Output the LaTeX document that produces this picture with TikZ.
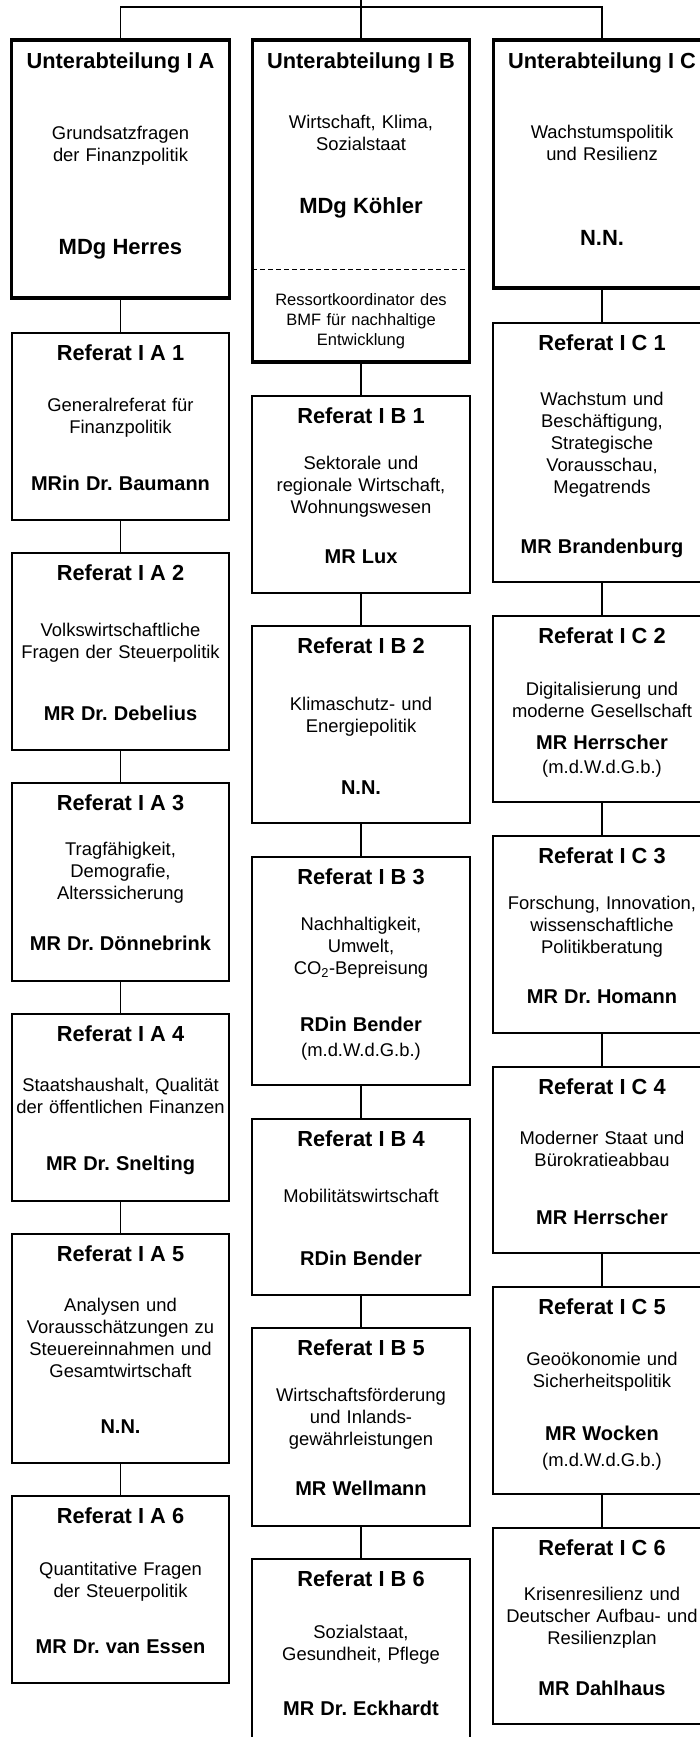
\documentclass[tikz,border=0pt]{standalone}
\usepackage{fontspec}
\setmainfont{Liberation Sans}
\frenchspacing
\newcommand{\headtxt}[1]{{\bfseries\fontsize{21.8}{22}\selectfont #1}}
\newcommand{\bosstxt}[1]{{\bfseries\fontsize{22}{22}\selectfont #1}}
\newcommand{\nametxt}[1]{{\bfseries\fontsize{20}{22}\selectfont #1}}

\begin{document}
\begin{tikzpicture}[x=1pt,y=-1pt]
\tikzset{refbox/.style=
            {draw, line width=1.6pt, anchor=north, outer sep=0pt,
             text width=214pt, inner xsep=1.75pt, inner ysep=0pt,
             align=center, text height=27.5pt,
             font=\fontsize{18.4}{22}\selectfont},
         headbox/.style=
            {refbox, line width=3.2pt, text height=28pt},
         notetxt/.style=
            {anchor=north, text width=214pt, inner xsep=1.75pt, inner ysep=0pt,
             align=center, font=\fontsize{16.5}{20}\selectfont},
         conn/.style={line width=1.6pt}}
\useasboundingbox (0,0) rectangle (700,1737);

% Unterabteilungen
\node[headbox,text depth=230pt] (ua) at (120.5,40)
    {\headtxt{Unterabteilung I A}\\[49.3pt] Grundsatzfragen\\der Finanzpolitik\\[71.7pt]
     \bosstxt{MDg Herres}};
\node[headbox,text depth=294pt] (ub) at (361,40)
    {\headtxt{Unterabteilung I B}\\[38pt] Wirtschaft, Klima,\\Sozialstaat\\[41.3pt]
     \bosstxt{MDg Köhler}};
\node[notetxt,text height=35.7pt] (ubnote) at (361,269.3)
    {Ressortkoordinator des\\BMF für nachhaltige\\Entwicklung};
\node[headbox,text depth=220pt] (uc) at (602,40)
    {\headtxt{Unterabteilung I C}\\[48.3pt] Wachstumspolitik\\und Resilienz\\[62.7pt]
     \bosstxt{N.N.}};
\draw[conn,dash pattern=on 5pt off 3pt] (ub.west |- ubnote.north) -- (ub.east |- ubnote.north);

% Referate I A
\node[refbox,text depth=159.5pt] (a1) at (120.5,333)
    {\headtxt{Referat I A 1}\\[29.2pt] Generalreferat für\\Finanzpolitik\\[34.3pt]
     \nametxt{MRin Dr. Baumann}};
\node[refbox,text depth=169.5pt] (a2) at (120.5,553)
    {\headtxt{Referat I A 2}\\[34.2pt] Volkswirtschaftliche\\Fragen der Steuerpolitik\\[39.3pt]
     \nametxt{MR Dr. Debelius}};
\node[refbox,text depth=170.5pt] (a3) at (120.5,783)
    {\headtxt{Referat I A 3}\\[22.5pt] Tragfähigkeit,\\Demografie,\\Alterssicherung\\[29.7pt]
     \nametxt{MR Dr. Dönnebrink}};
\node[refbox,text depth=159.5pt] (a4) at (120.5,1014)
    {\headtxt{Referat I A 4}\\[28.2pt] Staatshaushalt, Qualität\\der öffentlichen Finanzen\\[34.3pt]
     \nametxt{MR Dr. Snelting}};
\node[refbox,text depth=201.5pt] (a5) at (120.5,1234)
    {\headtxt{Referat I A 5}\\[28.2pt] Analysen und\\Vorausschätzungen zu\\Steuereinnahmen und\\Gesamtwirtschaft\\[33.6pt]
     \nametxt{N.N.}};
\node[refbox,text depth=159.5pt] (a6) at (120.5,1496)
    {\headtxt{Referat I A 6}\\[29.5pt] Quantitative Fragen\\der Steuerpolitik\\[34.3pt]
     \nametxt{MR Dr. van Essen}};

% Referate I B
\node[refbox,text depth=169.5pt] (b1) at (361,396)
    {\headtxt{Referat I B 1}\\[23.5pt] Sektorale und\\regionale Wirtschaft,\\Wohnungswesen\\[28.3pt]
     \nametxt{MR Lux}};
\node[refbox,text depth=169.5pt] (b2) at (361,626)
    {\headtxt{Referat I B 2}\\[34.5pt] Klimaschutz- und\\Energiepolitik\\[40pt]
     \nametxt{N.N.}};
\node[refbox,text depth=200.5pt] (b3) at (361,857)
    {\headtxt{Referat I B 3}\\[23.5pt] Nachhaltigkeit,\\Umwelt,\\CO\textsubscript{2}-Bepreisung\\[35.7pt]
     \nametxt{RDin Bender}\\[3pt] (m.d.W.d.G.b.)};
\node[refbox,text depth=148.5pt] (b4) at (361,1119)
    {\headtxt{Referat I B 4}\\[34.2pt] Mobilitätswirtschaft\\[40.3pt]
     \nametxt{RDin Bender}};
\node[refbox,text depth=170.5pt] (b5) at (361,1328)
    {\headtxt{Referat I B 5}\\[24.2pt] Wirtschaftsförderung\\und Inlands-\\gewährleistungen\\[27.3pt]
     \nametxt{MR Wellmann}};
\node[refbox,text depth=162.5pt] (b6) at (361,1559)
    {\headtxt{Referat I B 6}\\[29.8pt] Sozialstaat,\\Gesundheit, Pflege\\[32.7pt]
     \nametxt{MR Dr. Eckhardt}};

% Referate I C
\node[refbox,text depth=231.5pt] (c1) at (602,323)
    {\headtxt{Referat I C 1}\\[32.5pt] Wachstum und\\Beschäftigung,\\Strategische\\Vorausschau,\\Megatrends\\[38.3pt]
     \nametxt{MR Brandenburg}};
\node[refbox,text depth=158.5pt] (c2) at (602,616)
    {\headtxt{Referat I C 2}\\[29.5pt] Digitalisierung und\\moderne Gesellschaft\\[10.3pt]
     \nametxt{MR Herrscher}\\[2pt] (m.d.W.d.G.b.)};
\node[refbox,text depth=169.5pt] (c3) at (602,836)
    {\headtxt{Referat I C 3}\\[23.8pt] Forschung, Innovation,\\wissenschaftliche\\Politikberatung\\[28pt]
     \nametxt{MR Dr. Homann}};
\node[refbox,text depth=158.5pt] (c4) at (602,1067)
    {\headtxt{Referat I C 4}\\[27.8pt] Moderner Staat und\\Bürokratieabbau\\[35.7pt]
     \nametxt{MR Herrscher}};
\node[refbox,text depth=179.5pt] (c5) at (602,1287)
    {\headtxt{Referat I C 5}\\[28.5pt] Geoökonomie und\\Sicherheitspolitik\\[31.7pt]
     \nametxt{MR Wocken}\\[4pt] (m.d.W.d.G.b.)};
\node[refbox,text depth=168.5pt] (c6) at (602,1528)
    {\headtxt{Referat I C 6}\\[22.5pt] Krisenresilienz und\\Deutscher Aufbau- und\\Resilienzplan\\[29pt]
     \nametxt{MR Dahlhaus}};

% connectors
\coordinate (root) at (361,0);
\coordinate (bus) at (361,7.3);
\draw[conn] (root) -- (bus);
\draw[conn] (ua.north) |- (bus) -| (uc.north);
\draw[conn] (bus) -- (ub.north);
\foreach \from/\to in {ua/a1,a1/a2,a2/a3,a3/a4,a4/a5,a5/a6,
                       ub/b1,b1/b2,b2/b3,b3/b4,b4/b5,b5/b6,
                       uc/c1,c1/c2,c2/c3,c3/c4,c4/c5,c5/c6}
    \draw[conn] (\from) -- (\to);
\end{tikzpicture}
\end{document}
